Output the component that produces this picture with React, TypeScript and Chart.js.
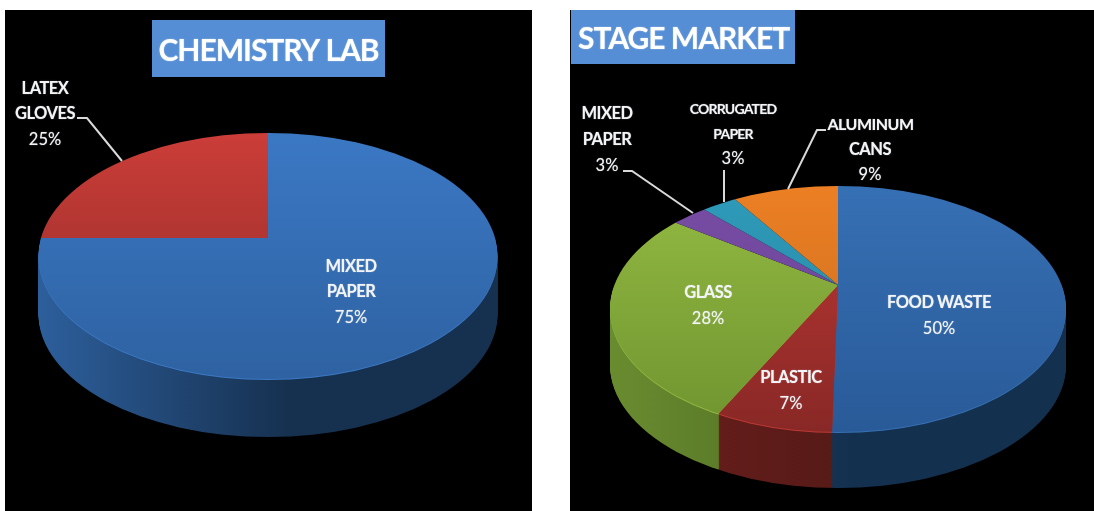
import React, { useEffect, useRef } from "react";
import { Chart, registerables } from "chart.js";

Chart.register(...registerables);

// ---- data ----
const labCategories = ["MIXED PAPER", "LATEX GLOVES"];
const labValues = [75, 25];
const marketCategories = ["FOOD WASTE", "PLASTIC", "GLASS", "MIXED PAPER", "CORRUGATED PAPER", "ALUMINUM CANS"];
const marketValues = [50, 7, 28, 3, 3, 9];

// ---- per-slice colours: [top-face top, top-face bottom, wall left, wall right] ----
const labColors = [
  ["#3b78c4", "#2e62a2", "#2d5f9c", "#16304f"],
  ["#cb3d38", "#8e2b29", "#6b1f1e", "#561a18"],
];
const marketColors = [
  ["#3670b4", "#295a98", "#1d4470", "#14304f"],
  ["#bd3834", "#882826", "#6f1f1d", "#541a17"],
  ["#93b942", "#6f9430", "#6a8c30", "#4c6a22"],
  ["#774da4", "#674292", "#4a2f6c", "#3c2658"],
  ["#2f9aba", "#2686a0", "#1c6a80", "#185a6c"],
  ["#ec7f24", "#c46c1e", "#a85a18", "#8c4c14"],
];

// ---- layout: page coordinates ----
const labFrame = { x: 5, y: 10, w: 527, h: 501, titleBox: [152, 20, 233, 57] };
const marketFrame = { x: 570, y: 10, w: 524, h: 501, titleBox: [571, 10, 224, 54] };
const labDisc = { cx: 268, cy: 238, rx: 229.5, top: 105, bottom: 141, depth: 58, shear: 0, wallL: 38, wallR: 497 };
const marketDisc = { cx: 838, cy: 285, rx: 228, top: 99, bottom: 147, depth: 56, shear: -0.04, wallL: 610, wallR: 1066 };

type Lbl = [string, number, number, string];
const BOLD = "bold 16.5px Lato";
const NARROW = "bold 16px Lato";
const SMALL = "bold 14px Lato";
const REG = "16.5px Lato";
const tracking: Record<string, string> = { [BOLD]: "-0.5px", [NARROW]: "-0.5px", [SMALL]: "-0.8px", [REG]: "0px" };
const labLabels: Lbl[] = [
  ["LATEX", 45, 89, BOLD], ["GLOVES", 45, 114, BOLD], ["25%", 45, 140, REG],
  ["MIXED", 351, 267, BOLD], ["PAPER", 351, 292, BOLD], ["75%", 351, 318, REG],
];
const marketLabels: Lbl[] = [
  ["MIXED", 607, 114, BOLD], ["PAPER", 607, 140, BOLD], ["3%", 607, 166, REG],
  ["CORRUGATED", 733, 109, SMALL], ["PAPER", 733, 134, SMALL], ["3%", 733, 159, REG],
  ["ALUMINUM", 870.5, 125, NARROW], ["CANS", 870, 150, BOLD], ["9%", 870, 175, REG],
  ["GLASS", 708, 293, BOLD], ["28%", 708, 319, REG],
  ["FOOD WASTE", 939, 303, BOLD], ["50%", 939, 329, REG],
  ["PLASTIC", 791, 378, BOLD], ["7%", 791, 404, REG],
];
const labLeaders = [[[77, 118], [87, 118], [122, 161]]];
const marketLeaders = [
  [[623, 171], [632, 171], [693, 213]],
  [[724, 170], [724, 202]],
  [[826, 130], [817, 130], [788, 189]],
];

function disc3dPlugin(frame: any, disc: any, colors: string[][], labels: Lbl[], leaders: number[][][]) {
  // A tilted disc: far slices look narrower than near ones, and the centre sits above the ellipse's centre.
  const e = (disc.bottom - disc.top) / (disc.bottom + disc.top);
  const k = (2 * disc.bottom * disc.top) / (disc.bottom + disc.top);
  const ellipseCy = disc.cy + (disc.bottom - disc.top) / 2;
  const ellipseRy = (disc.bottom + disc.top) / 2;
  const warp = (a: number) => {
    const t = a + Math.PI / 2;
    const w = 1 + e * Math.cos(t);
    const px = (Math.sqrt(1 - e * e) * Math.sin(t)) / w;
    const py = (-Math.cos(t) * k) / w;
    const ly = py / (py > 0 ? disc.bottom : disc.top);
    let r = Math.atan2(ly, px);
    while (r < a - Math.PI) r += Math.PI * 2;
    while (r > a + Math.PI) r -= Math.PI * 2;
    return r;
  };
  return {
    id: "disc3d",
    beforeDraw(chart: any) {
      const ctx = chart.ctx;
      ctx.save();
      ctx.fillStyle = "#000";
      ctx.fillRect(0, 0, chart.width, chart.height);
      const [bx, by, bw, bh] = frame.titleBox;
      ctx.fillStyle = "#558ed5";
      ctx.fillRect(bx - frame.x, by - frame.y, bw, bh);
      ctx.restore();
      ctx.letterSpacing = "-1px";
      ctx.shadowColor = "rgba(255,255,255,0.55)";
      ctx.shadowBlur = 1.5;
    },
    beforeDatasetsDraw(chart: any) {
      const ctx = chart.ctx;
      ctx.shadowBlur = 0;
      const arcs = chart.getDatasetMeta(0).data as any[];
      const R = arcs[0].outerRadius;
      const ax = arcs[0].x;
      const ay = arcs[0].y;
      const sx = disc.rx / R;
      const drawLayer = (dy: number, half: "top" | "bottom", fill: (i: number, sy: number) => any) => {
        const sy = (half === "top" ? disc.top : disc.bottom) / R;
        ctx.save();
        ctx.beginPath();
        const cutY = disc.cy + dy;
        if (half === "top") ctx.rect(0, 0, 1200, cutY);
        else ctx.rect(0, cutY, 1200, 700);
        ctx.clip();
        ctx.beginPath();
        ctx.ellipse(disc.cx, ellipseCy + dy, disc.rx, ellipseRy, 0, 0, Math.PI * 2);
        ctx.clip();
        ctx.translate(disc.cx, cutY);
        ctx.transform(sx, 0, half === "bottom" ? disc.shear * sy : 0, sy, 0, 0);
        ctx.translate(-ax, -ay);
        arcs.forEach((arc, i) => {
          const p = Object.create(arc);
          const start = warp(arc.startAngle);
          const end = warp(arc.endAngle);
          p.startAngle = start;
          p.endAngle = end;
          p.circumference = end - start;
          p.outerRadius = R * 1.4;
          const o = Object.create(arc.options);
          o.backgroundColor = fill(i, sy);
          o.borderWidth = 0;
          p.options = o;
          arc.draw.call(p, ctx);
        });
        ctx.restore();
      };
      ctx.save();
      ctx.translate(-frame.x, -frame.y);
      // side wall, stacked from the library's own arcs
      const wallFill = (i: number) => {
        const g = ctx.createLinearGradient(
          ax + (disc.wallL - disc.cx) / sx, 0, ax + (disc.wallR - disc.cx) / sx, 0);
        g.addColorStop(0, colors[i][2]);
        g.addColorStop(0.55, colors[i][3]);
        g.addColorStop(1, colors[i][3]);
        return g;
      };
      const walls = colors.map((_, i) => wallFill(i));
      for (let dy = disc.depth; dy >= 1; dy--) drawLayer(dy, "bottom", (i) => walls[i]);
      // pale rim
      drawLayer(1, "bottom", (i) => colors[i][0]);
      // top face
      const yTop = disc.cy - disc.top;
      const yBot = disc.cy + disc.bottom;
      const faceFill = (i: number, sy: number) => {
        const g = ctx.createLinearGradient(0, ay + (yTop - disc.cy) / sy, 0, ay + (yBot - disc.cy) / sy);
        g.addColorStop(0, colors[i][0]);
        g.addColorStop(1, colors[i][1]);
        return g;
      };
      drawLayer(0, "top", faceFill);
      drawLayer(0, "bottom", faceFill);

      // leader lines
      ctx.strokeStyle = "#d9d9d9";
      ctx.lineWidth = 2;
      leaders.forEach((pts) => {
        ctx.beginPath();
        pts.forEach(([x, y], i) => (i ? ctx.lineTo(x, y) : ctx.moveTo(x, y)));
        ctx.stroke();
      });
      // data labels
      ctx.fillStyle = "#f2f4f7";
      ctx.textAlign = "center";
      ctx.textBaseline = "middle";
      ctx.shadowColor = "rgba(255,255,255,0.5)";
      ctx.shadowBlur = 1.2;
      labels.forEach(([t, x, y, f]) => {
        ctx.font = f;
        ctx.letterSpacing = tracking[f];
        ctx.fillText(t, x, y);
      });
      ctx.restore();
      return false;
    },
  };
}

function makeChart(canvas: HTMLCanvasElement, frame: any, disc: any, title: string, align: string,
  titleTop: number, padLeft: number, cats: string[], vals: number[], colors: string[][], labels: Lbl[], leaders: number[][][]) {
  return new Chart(canvas, {
    type: "pie",
    data: {
      labels: cats,
      datasets: [{ data: vals, backgroundColor: colors.map((c) => c[0]), borderWidth: 0 }],
    },
    options: {
      responsive: false,
      animation: false,
      layout: { padding: { left: padLeft } },
      plugins: {
        legend: { display: false },
        tooltip: { enabled: false },
        title: {
          display: true,
          text: title,
          align: align as any,
          color: "#ffffff",
          font: { family: "Lato", weight: "bold", size: 30 },
          padding: { top: titleTop, bottom: 10 },
        },
      },
    },
    plugins: [disc3dPlugin(frame, disc, colors, labels, leaders) as any],
  });
}

export default function App() {
  const a = useRef<HTMLCanvasElement>(null);
  const b = useRef<HTMLCanvasElement>(null);
  useEffect(() => {
    const c1 = makeChart(a.current!, labFrame, labDisc, "CHEMISTRY LAB", "center", 23, 0, labCategories, labValues, labColors, labLabels, labLeaders);
    const c2 = makeChart(b.current!, marketFrame, marketDisc, "STAGE MARKET", "start", 11, 8, marketCategories, marketValues, marketColors, marketLabels, marketLeaders);
    return () => {
      c1.destroy();
      c2.destroy();
    };
  }, []);
  const st = (f: any): React.CSSProperties => ({ position: "absolute", left: f.x, top: f.y, width: f.w, height: f.h, display: "block" });
  return (
    <div style={{ position: "fixed", left: 0, top: 0, width: 1094, height: 511, background: "#fff", overflow: "hidden" }}>
      <canvas ref={a} width={labFrame.w} height={labFrame.h} style={st(labFrame)} />
      <canvas ref={b} width={marketFrame.w} height={marketFrame.h} style={st(marketFrame)} />
    </div>
  );
}
